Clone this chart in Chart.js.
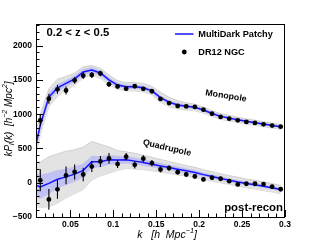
<!DOCTYPE html>
<html><head><meta charset="utf-8">
<script src="https://cdn.jsdelivr.net/npm/chart.js@4"></script>
<style>html,body{margin:0;padding:0;background:#fff}canvas{display:block}</style>
</head><body>
<canvas id="c" width="316" height="243"></canvas>
<script>
// ---- data ----
const kBins = [0.015,0.025,0.035,0.045,0.055,0.065,0.075,0.085,0.095,0.105,0.115,0.125,0.135,0.145,0.155,0.165,0.175,0.185,0.195,0.205,0.215,0.225,0.235,0.245,0.255,0.265,0.275,0.285,0.295];
const dr12Mono    = [910,1225,1362,1345,1493,1562,1571,1593,1436,1405,1372,1408,1370,1334,1222,1162,1119,1113,1106,1065,1007,959,934,910,886,872,851,833,818];
const dr12MonoErr = [78,73,65,60,48,50,45,40,38,35,33,32,30,28,27,26,25,24,23,22,22,21,20,20,19,19,18,18,18];
const dr12Quad    = [35,-243,-97,106,157,120,236,311,355,272,380,261,351,285,193,213,154,121,92,48,73,58,23,-25,-15,-15,-20,-58,-95];
const dr12QuadErr = [160,150,138,130,109,97,80,80,77,58,55,52,50,45,42,40,38,36,34,32,30,30,28,28,26,26,25,25,24];

const kModel = [0.005,0.015,0.025,0.035,0.045,0.055,0.065,0.075,0.085,0.095,0.105,0.115,0.125,0.135,0.145,0.155,0.165,0.175,0.185,0.195,0.205,0.215,0.225,0.235,0.245,0.255,0.265,0.275,0.285,0.295];
const patchyMono      = [274,840,1250,1385,1450,1515,1615,1645,1600,1500,1425,1400,1400,1385,1340,1240,1175,1135,1115,1100,1060,1010,968,942,918,895,875,855,835,815];
const patchyMonoSigma = [90,80,65,55,50,48,45,42,40,38,35,33,32,30,30,28,27,26,25,24,23,22,21,20,20,19,19,18,18,17];
const patchyQuad      = [-15,-60,-10,50,85,125,180,305,305,335,330,335,315,295,270,245,222,198,175,150,118,92,62,38,12,-10,-30,-52,-75,-100];
const patchyQuadSigma = [190,175,155,135,120,110,100,90,80,70,62,56,52,48,45,42,40,38,36,34,32,30,30,28,28,26,26,25,25,24];
const mockMonoHi = [500,1000,1370,1510,1550,1600,1690,1710,1670,1570,1490,1460,1460,1448,1405,1320,1245,1195,1165,1145,1100,1050,1008,981,956,932,912,890,870,849];
const mockMonoLo = [100,700,1110,1260,1350,1420,1530,1570,1520,1430,1360,1340,1340,1325,1285,1170,1110,1075,1060,1050,1014,966,925,900,878,856,836,817,798,779];
const mockQuadHi = [300,300,380,420,460,480,520,600,560,520,470,450,430,400,370,340,310,280,250,225,190,160,130,105,80,55,35,12,-12,-40];
const mockQuadLo = [-330,-360,-350,-300,-220,-160,-100,40,100,140,180,210,200,190,175,155,135,115,95,75,48,25,-2,-25,-50,-72,-92,-115,-135,-160];

const xTickValues = [0.05,0.1,0.15,0.2,0.25,0.3];
const xTickLabels = ["0.05","0.1","0.15","0.2","0.25","0.3"];
const yTickValues = [-500,0,500,1000,1500,2000];
const yTickLabels = ["\u2212500","0","500","1000","1500","2000"];

const FONT = "'Liberation Sans', Arial, Helvetica, sans-serif";
const BLUE = '#1414ff';

function pts(xs, ys){ return xs.map((x,i)=>({x:x, y:ys[i]})); }
function shift(ys, s, sign){ return ys.map((v,i)=>v + sign*s[i]); }

const datasets = [
  {label:'DR12 NGC', data:pts(kBins,dr12Mono), err:dr12MonoErr, showLine:false, pointRadius:2.4, pointBackgroundColor:'#000', pointBorderWidth:0, order:0},
  {label:'DR12 NGC q', data:pts(kBins,dr12Quad), err:dr12QuadErr, showLine:false, pointRadius:2.4, pointBackgroundColor:'#000', pointBorderWidth:0, order:0},
  {label:'MultiDark Patchy', data:pts(kModel,patchyMono), borderColor:BLUE, borderWidth:1.5, pointRadius:0, fill:false, order:1},
  {label:'Patchy q', data:pts(kModel,patchyQuad), borderColor:BLUE, borderWidth:1.5, pointRadius:0, fill:false, order:1},
  {label:'bm hi', data:pts(kModel,shift(patchyMono,patchyMonoSigma,1)), borderWidth:0, pointRadius:0, fill:5, backgroundColor:'rgba(165,165,255,0.55)', order:2},
  {label:'bm lo', data:pts(kModel,shift(patchyMono,patchyMonoSigma,-1)), borderWidth:0, pointRadius:0, fill:false, order:2},
  {label:'bq hi', data:pts(kModel,shift(patchyQuad,patchyQuadSigma,1)), borderWidth:0, pointRadius:0, fill:7, backgroundColor:'rgba(165,165,255,0.55)', order:2},
  {label:'bq lo', data:pts(kModel,shift(patchyQuad,patchyQuadSigma,-1)), borderWidth:0, pointRadius:0, fill:false, order:2},
  {label:'gm hi', data:pts(kModel,mockMonoHi), borderColor:'#c8c8c8', borderWidth:0.8, pointRadius:0, fill:9, backgroundColor:'#e3e3e3', order:3},
  {label:'gm lo', data:pts(kModel,mockMonoLo), borderColor:'#c8c8c8', borderWidth:0.8, pointRadius:0, fill:false, order:3},
  {label:'gq hi', data:pts(kModel,mockQuadHi), borderColor:'#c8c8c8', borderWidth:0.8, pointRadius:0, fill:11, backgroundColor:'#e3e3e3', order:3},
  {label:'gq lo', data:pts(kModel,mockQuadLo), borderColor:'#c8c8c8', borderWidth:0.8, pointRadius:0, fill:false, order:3}
];

function richText(ctx, parts, x, y, align, rot, size, style){
  ctx.save();
  ctx.translate(x,y);
  ctx.rotate(rot);
  let w = 0;
  parts.forEach(p=>{ ctx.font = style+' '+(size*(p.sc||1))+'px '+FONT; w += ctx.measureText(p.t).width; });
  let cx = align==='center' ? -w/2 : (align==='right' ? -w : 0);
  ctx.textBaseline = 'middle';
  ctx.textAlign = 'left';
  ctx.fillStyle = '#000';
  parts.forEach(p=>{
    ctx.font = style+' '+(size*(p.sc||1))+'px '+FONT;
    ctx.fillText(p.t, cx, (p.dy||0)*size);
    cx += ctx.measureText(p.t).width;
  });
  ctx.restore();
}

const decor = {
  id:'decor',
  afterDatasetsDraw(chart){
    const ctx = chart.ctx, xs = chart.scales.x, ys = chart.scales.y;
    ctx.save();
    ctx.beginPath();
    const a = chart.chartArea;
    ctx.rect(a.left,a.top,a.right-a.left,a.bottom-a.top);
    ctx.clip();
    ctx.strokeStyle = '#000'; ctx.lineWidth = 1.1;
    [0,1].forEach(di=>{
      const ds = chart.data.datasets[di];
      ds.data.forEach((p,i)=>{
        const px = xs.getPixelForValue(p.x);
        ctx.beginPath();
        ctx.moveTo(px, ys.getPixelForValue(p.y + ds.err[i]));
        ctx.lineTo(px, ys.getPixelForValue(p.y - ds.err[i]));
        ctx.stroke();
      });
    });
    ctx.restore();
  },
  afterDraw(chart){
    const ctx = chart.ctx, xs = chart.scales.x, ys = chart.scales.y, a = chart.chartArea;
    ctx.save();
    ctx.strokeStyle = '#000'; ctx.lineWidth = 1;
    ctx.strokeRect(Math.round(a.left)+0.5, Math.round(a.top)+0.5, Math.round(a.right-a.left)-1, Math.round(a.bottom-a.top));
    ctx.beginPath();
    for (let i=1;i<=30;i++){
      const v = i/100; const px = Math.round(xs.getPixelForValue(v))+0.5;
      const len = (i%5===0) ? 7 : 3.5;
      ctx.moveTo(px, a.bottom); ctx.lineTo(px, a.bottom-len);
    }
    for (let v=-500; v<=2300; v+=100){
      const py = Math.round(ys.getPixelForValue(v))+0.5;
      const len = (v%500===0) ? 7 : 3.5;
      ctx.moveTo(a.left, py); ctx.lineTo(a.left+len, py);
    }
    ctx.stroke();
    ctx.restore();

    richText(ctx,[{t:'0.2 < z < 0.5'}],46.5,32.5,'left',0,11.3,'bold');
    ctx.save();
    ctx.strokeStyle = BLUE; ctx.lineWidth = 1.5;
    ctx.beginPath(); ctx.moveTo(175,34); ctx.lineTo(193.5,34); ctx.stroke();
    ctx.fillStyle = '#000';
    ctx.beginPath(); ctx.arc(184.3,52,2.4,0,Math.PI*2); ctx.fill();
    ctx.restore();
    richText(ctx,[{t:'MultiDark Patchy'}],198.3,34.5,'left',0,9.2,'bold');
    richText(ctx,[{t:'DR12 NGC'}],198.3,52.5,'left',0,9.2,'bold');
    richText(ctx,[{t:'Monopole'}],226,96,'center',9*Math.PI/180,8.8,'bold');
    richText(ctx,[{t:'Quadrupole'}],167,148,'center',13*Math.PI/180,8.8,'bold');
    richText(ctx,[{t:'post-recon'}],283,207.5,'right',0,11.4,'bold');
    richText(ctx,[{t:'kP'},{t:'l',sc:0.7,dy:0.3},{t:'(k)  [h'},{t:'\u22122',sc:0.7,dy:-0.4},{t:' Mpc'},{t:'2',sc:0.7,dy:-0.4},{t:']'}],
      9.5,119,'center',-Math.PI/2,10,'italic');
    richText(ctx,[{t:'k   [h  Mpc'},{t:'\u22121',sc:0.7,dy:-0.4},{t:']'}],197,235,'right',0,10.5,'italic');
  }
};

new Chart(document.getElementById('c'), {
  type:'line',
  data:{datasets},
  options:{
    responsive:false, animation:false, devicePixelRatio:1,
    layout:{padding:{top:24,right:31,left:0,bottom:0}},
    plugins:{legend:{display:false}, tooltip:{enabled:false}},
    elements:{line:{tension:0}},
    scales:{
      x:{type:'linear', min:0.01, max:0.3,
        grid:{display:false, drawTicks:false}, border:{display:false},
        afterBuildTicks(s){ s.ticks = xTickValues.map(v=>({value:v})); },
        afterFit(s){ s.height = 26; },
        ticks:{padding:3, color:'#000', font:{family:FONT, size:8.5, weight:'bold'}, maxRotation:0, autoSkip:false,
          callback:(v,i)=>xTickLabels[i]}
      },
      y:{type:'linear', min:-500, max:2315,
        grid:{display:false, drawTicks:false}, border:{display:false},
        afterBuildTicks(s){ s.ticks = yTickValues.map(v=>({value:v})); },
        afterFit(s){ s.width = 36; },
        ticks:{padding:4, color:'#000', font:{family:FONT, size:8.5, weight:'bold'}, autoSkip:false,
          callback:(v,i)=>yTickLabels[i]}
      }
    }
  },
  plugins:[decor]
});
</script>
</body></html>
